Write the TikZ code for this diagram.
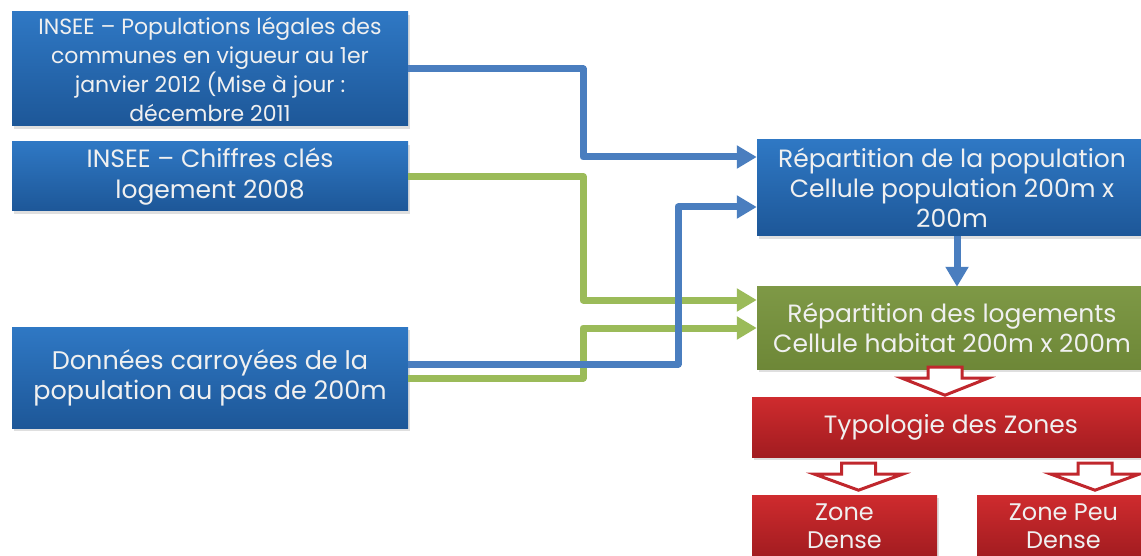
\documentclass[tikz,border=0pt]{standalone}
\usepackage{fontspec}
\setmainfont{Poppins}
\usetikzlibrary{arrows.meta,shadows}

\definecolor{boxbluetop}{HTML}{2F78C4}
\definecolor{boxbluebot}{HTML}{1D5798}
\definecolor{boxgreen}{HTML}{77933C}
\definecolor{boxredtop}{HTML}{CF2B2E}
\definecolor{boxredbot}{HTML}{A21C20}
\definecolor{lineblue}{HTML}{4A7EBF}
\definecolor{linegreen}{HTML}{9BBB59}
\definecolor{arrowred}{HTML}{C0272D}

\begin{document}
\begin{tikzpicture}[x=1pt,y=-1pt]
\tikzstyle{srcbox} = [top color=boxbluetop,bottom color=boxbluebot,text=white!94!black,
  align=center,inner sep=0pt,drop shadow={shadow xshift=2pt,shadow yshift=-3pt,opacity=0.25}]
\tikzstyle{greenbox} = [srcbox,top color=boxgreen!95!white,bottom color=boxgreen!92!black]
\tikzstyle{redbox} = [srcbox,top color=boxredtop,bottom color=boxredbot]
\tikzstyle{blueline} = [draw=lineblue,line width=7pt,line join=round,-{Triangle[length=20pt,width=22pt]}]
\tikzstyle{greenline} = [blueline,draw=linegreen]
\tikzstyle{zonearrow} = [draw=arrowred,line width=3pt,fill=white,line join=miter]
\useasboundingbox (0,0) rectangle (1141,556);

% sources
\node[srcbox,minimum width=396,minimum height=114,font=\fontsize{22}{29}\selectfont] (legales) at (210,69)
  {INSEE – Populations légales des\\communes en vigueur au 1er\\janvier 2012 (Mise à jour :\\décembre 2011};
\node[srcbox,minimum width=396,minimum height=69,font=\fontsize{25}{31}\selectfont] (chiffres) at (210,176.5)
  {INSEE – Chiffres clés\\logement 2008};
\node[srcbox,minimum width=396,minimum height=101,font=\fontsize{25.5}{30}\selectfont] (carroyees) at (210,377.5)
  {Données carroyées de la\\population au pas de 200m};

% results
\node[srcbox,minimum width=390,minimum height=96,font=\fontsize{25}{30}\selectfont] (population) at (952,188)
  {Répartition de la population\\Cellule population 200m x\\200m};
\node[greenbox,minimum width=390,minimum height=82,font=\fontsize{25}{30}\selectfont] (logements) at (952,328)
  {Répartition des logements\\Cellule habitat 200m x 200m};
\node[redbox,minimum width=398,minimum height=60,font=\fontsize{25}{30}\selectfont] (typologie) at (951,427)
  {Typologie des Zones};
\node[redbox,minimum width=185,minimum height=62,font=\fontsize{24}{28}\selectfont] (dense) at (844.5,526)
  {Zone\\Dense};
\node[redbox,minimum width=173,minimum height=62,font=\fontsize{24}{28}\selectfont] (peudense) at (1063.5,526)
  {Zone Peu\\Dense};

% connectors
\draw[greenline] (chiffres.east) -| (583,300) -- ([yshift=28]logements.west);
\draw[greenline] ([yshift=-0.5]carroyees.east) -| (583,328) -- (logements.west);
\draw[blueline] (legales.east) -| (583,157) -- ([yshift=31]population.west);
\draw[blueline] ([yshift=13.5]carroyees.east) -| (678,207) -- ([yshift=-19]population.west);
\draw[blueline] ([xshift=5]population.south) -- ([xshift=5]logements.north);

% hollow arrows
\draw[zonearrow] ([xshift=-7]logements.south) ++(-17,-2) -- ++(0,11) -- ++(-26,0) -- ++(43,17)
  -- ++(43,-17) -- ++(-26,0) -- ++(0,-11) -- cycle;
\draw[zonearrow] ([xshift=-92.5]typologie.south) ++(-17,6) -- ++(0,11) -- ++(-27,0) -- ++(44,16)
  -- ++(44,-16) -- ++(-27,0) -- ++(0,-11) -- cycle;
\draw[zonearrow] ([xshift=144]typologie.south) ++(-17,6) -- ++(0,11) -- ++(-27,0) -- ++(44,16)
  -- ++(44,-16) -- ++(-27,0) -- ++(0,-11) -- cycle;
\end{tikzpicture}
\end{document}
